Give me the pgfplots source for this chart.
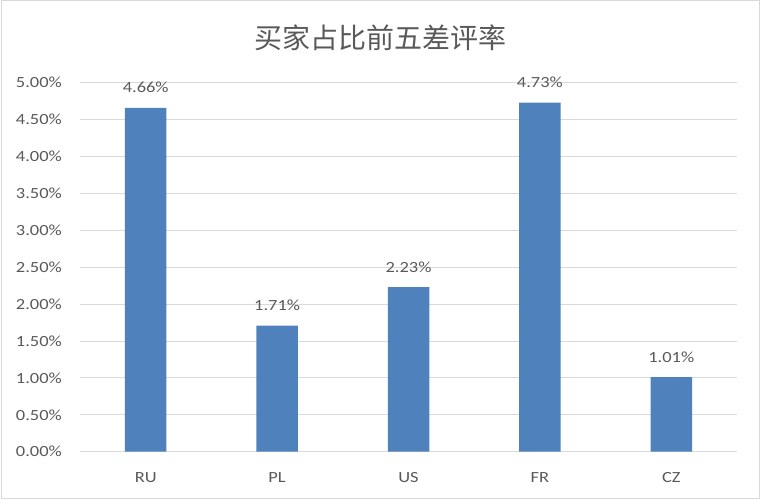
\documentclass[border=0pt]{standalone}
\usepackage{pgfplots}
\pgfplotsset{compat=1.18}
\usepackage{fontspec}
\setmainfont{Carlito}
\newfontfamily\lab[FakeStretch=1.19]{Carlito}
\newfontfamily\cjk{Noto Sans CJK SC}
\definecolor{barblue}{HTML}{4F81BD}
\definecolor{txtgray}{HTML}{595959}
\definecolor{gridgray}{HTML}{D9D9D9}
\begin{document}
\begin{tikzpicture}[x=1pt,y=1pt]
\useasboundingbox (0,0) rectangle (760,499);
\draw[gridgray, line width=1pt] (1,1) rectangle (759,498);
\node[text=txtgray, font=\cjk\fontsize{28}{30}\selectfont] at (380,461) {买家占比前五差评率};
\begin{axis}[
  at={(80pt,47.3pt)}, anchor=south west,
  scale only axis, width=657pt, height=369pt,
  xmin=-0.5, xmax=4.5, ymin=0, ymax=5,
  xtick={0,1,2,3,4}, xticklabels={RU,PL,US,FR,CZ},
  ytick={0,0.5,...,5},
  yticklabel={\pgfmathprintnumber[fixed,fixed zerofill,precision=2]{\tick}\%},
  /pgf/number format/assume math mode=true,
  axis line style={draw=none},
  major tick length=0pt,
  ymajorgrids, grid style={gridgray, line width=1pt},
  tick label style={text=txtgray, font=\lab\fontsize{15.5}{18}\selectfont, inner sep=0pt},
  yticklabel style={xshift=-18pt},
  xticklabel style={yshift=-20.3pt},
  ybar, bar width=41.5pt,
  nodes near coords={\pgfmathprintnumber[fixed,fixed zerofill,precision=2]{\pgfplotspointmeta}\%},
  nodes near coords style={text=txtgray, font=\lab\fontsize{15.5}{18}\selectfont, inner sep=0pt, yshift=14.5pt},
]
\addplot[fill=barblue, draw=none] coordinates {(0,4.66) (1,1.71) (2,2.23) (3,4.73) (4,1.01)};
\end{axis}
\end{tikzpicture}
\end{document}
